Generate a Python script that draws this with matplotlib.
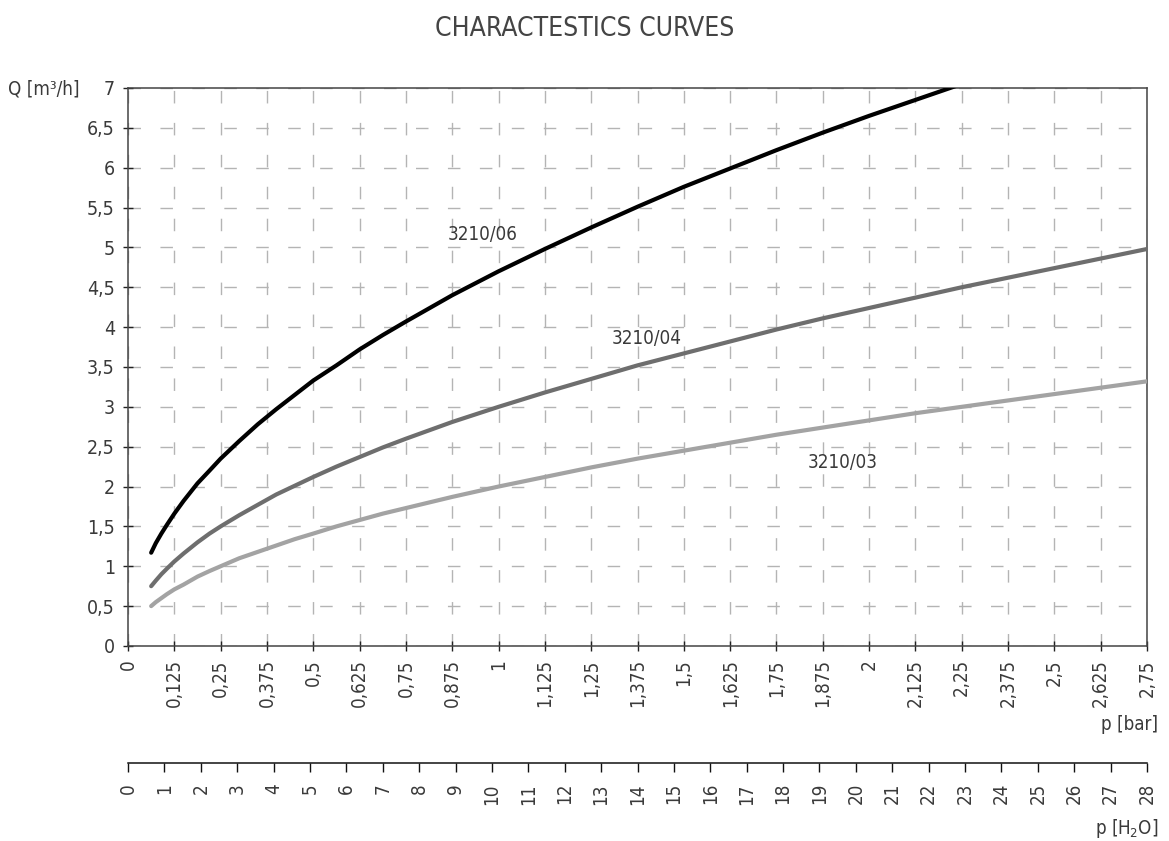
import matplotlib
matplotlib.use("Agg")
import matplotlib.pyplot as plt

plt.rcParams['font.family'] = ['DejaVu Sans']
plt.rcParams['font.stretch'] = 'condensed'
plt.rcParams['mathtext.default'] = 'regular'

# pressure points (bar) and flow (m3/h)
p_06 = [0.0625, 0.075, 0.09, 0.105, 0.125, 0.15, 0.1875, 0.22, 0.25, 0.3, 0.35,
        0.4, 0.45, 0.5, 0.5625, 0.625, 0.6875, 0.75, 0.875, 1.0, 1.125, 1.25,
        1.375, 1.5, 1.625, 1.75, 1.875, 2.0, 2.125, 2.25]
q_06 = [1.17, 1.29, 1.41, 1.52, 1.66, 1.82, 2.04, 2.20, 2.35, 2.57, 2.78,
        2.97, 3.15, 3.33, 3.52, 3.72, 3.90, 4.07, 4.40, 4.70, 4.98, 5.25,
        5.51, 5.76, 5.99, 6.22, 6.44, 6.65, 6.85, 7.05]

p_all = [0.0625, 0.075, 0.09, 0.105, 0.125, 0.15, 0.1875, 0.22, 0.25, 0.3, 0.35,
         0.4, 0.45, 0.5, 0.5625, 0.625, 0.6875, 0.75, 0.875, 1.0, 1.125, 1.25,
         1.375, 1.5, 1.625, 1.75, 1.875, 2.0, 2.125, 2.25, 2.375, 2.5, 2.625, 2.75]
q_04 = [0.75, 0.82, 0.90, 0.97, 1.06, 1.16, 1.30, 1.41, 1.50, 1.64, 1.77,
        1.90, 2.01, 2.12, 2.25, 2.37, 2.49, 2.60, 2.81, 3.00, 3.18, 3.35,
        3.52, 3.67, 3.82, 3.97, 4.11, 4.24, 4.37, 4.50, 4.62, 4.74, 4.86, 4.98]
q_03 = [0.50, 0.55, 0.60, 0.65, 0.71, 0.77, 0.87, 0.94, 1.00, 1.10, 1.18,
        1.26, 1.34, 1.41, 1.50, 1.58, 1.66, 1.73, 1.87, 2.00, 2.12, 2.24,
        2.35, 2.45, 2.55, 2.65, 2.74, 2.83, 2.92, 3.00, 3.08, 3.16, 3.24, 3.32]

bar_ticks = [i * 0.125 for i in range(23)]
bar_labels = ['0', '0,125', '0,25', '0,375', '0,5', '0,625', '0,75', '0,875', '1',
              '1,125', '1,25', '1,375', '1,5', '1,625', '1,75', '1,875', '2',
              '2,125', '2,25', '2,375', '2,5', '2,625', '2,75']
q_ticks = [0, 0.5, 1, 1.5, 2, 2.5, 3, 3.5, 4, 4.5, 5, 5.5, 6, 6.5, 7]
q_labels = ['0', '0,5', '1', '1,5', '2', '2,5', '3', '3,5', '4', '4,5', '5',
            '5,5', '6', '6,5', '7']
h2o_ticks = list(range(29))

txt = '#3a3a3a'

fig = plt.figure(figsize=(11.69, 8.41), dpi=100)
ax = fig.add_axes([0.1095, 0.2319, 0.8717, 0.6635])

ax.plot(p_all, q_03, color='#a3a3a3', lw=3, solid_capstyle='round', zorder=3)
ax.plot(p_all, q_04, color='#6e6e6e', lw=3, solid_capstyle='round', zorder=3)
ax.plot(p_06, q_06, color='#000000', lw=3, solid_capstyle='round', zorder=3)

ax.text(0.957, 5.16, '3210/06', color=txt, fontsize=13.5, ha='center', va='center')
ax.text(1.40, 3.86, '3210/04', color=txt, fontsize=13.5, ha='center', va='center')
ax.text(1.93, 2.30, '3210/03', color=txt, fontsize=13.5, ha='center', va='center')

ax.set_xlim(0, 2.75)
ax.set_ylim(0, 7)
ax.set_xticks(bar_ticks)
ax.set_xticklabels(bar_labels, rotation=90)
ax.set_yticks(q_ticks)
ax.set_yticklabels(q_labels)
ax.tick_params(direction='inout', length=7, width=1, colors='#222222',
               labelcolor=txt, labelsize=13.5)
ax.tick_params(axis='y', labelsize=14)
ax.tick_params(axis='x', pad=6)
ax.tick_params(axis='y', pad=6)
ax.grid(True, color='#b4b4b4', lw=1, linestyle=(0, (9, 14)))
for s in ax.spines.values():
    s.set_color('#444444')
    s.set_linewidth(1.1)

# second scale in metres of water
sec = ax.secondary_xaxis(-0.2097, functions=(lambda x: x * 28 / 2.75,
                                             lambda x: x * 2.75 / 28))
sec.set_xticks(h2o_ticks)
sec.set_xticklabels([str(t) for t in h2o_ticks], rotation=90)
sec.tick_params(direction='out', length=6.5, width=1, colors='#111111',
                labelcolor=txt, labelsize=13.5, pad=8)
sec.spines['bottom'].set_color('#111111')
sec.spines['bottom'].set_linewidth(1.1)

fig.text(0.5, 0.965, 'CHARACTESTICS CURVES', ha='center', va='center',
         fontsize=19, color='#444444')
fig.text(0.007, 0.894, 'Q [m³/h]', ha='left', va='center', fontsize=13.5, color=txt)
fig.text(0.991, 0.138, 'p [bar]', ha='right', va='center', fontsize=13.5, color=txt)
fig.text(0.991, 0.015, 'p [H$_2$O]', ha='right', va='center', fontsize=13.5, color=txt)

fig.savefig('out.png', dpi=100)
